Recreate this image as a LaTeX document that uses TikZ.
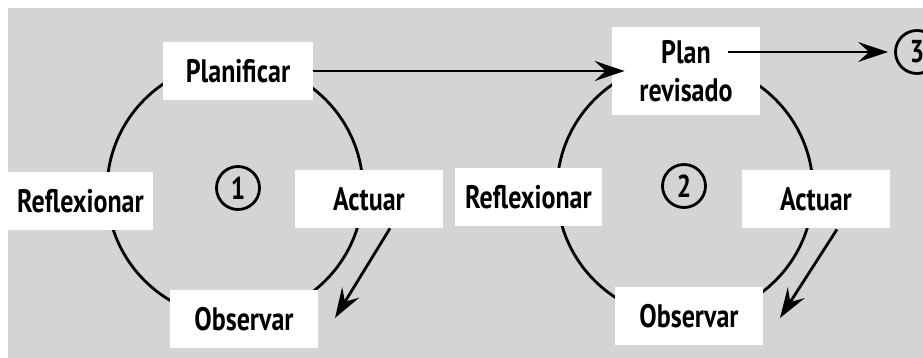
\documentclass[tikz,border=0pt]{standalone}
\usepackage{fontspec}
\setmainfont{PT Sans}[FakeStretch=0.8]
\usepackage{tikz}
\usetikzlibrary{arrows.meta, positioning, calc}
\usepackage{xcolor}
\definecolor{scangray}{RGB}{212,212,212}

\begin{document}
\begin{tikzpicture}[
		box/.style={
			fill=white,
			align=center,
			inner sep=0pt,
			minimum width=2.96cm,
			minimum height=1.16cm,
			font=\bfseries\fontsize{18.5}{21.5}\selectfont
		},
		num/.style={
			draw,
			circle,
			line width=1.6pt,
			inner sep=0pt,
			minimum size=0.86cm,
			font=\bfseries\fontsize{18}{20}\selectfont
		},
		cycle/.style={
			line width=1.6pt
		},
		arrow/.style={
			-{Stealth[length=0.6cm, width=0.4cm, inset=0.22cm]},
			line width=1.6pt
		}
		]
		
		\useasboundingbox (0,0) rectangle (18.46,7.16);
		\fill[scangray] (0.16,0) rectangle (18.46,7.0);
		
		% Ciclos
		\draw[cycle] (4.70,3.36) circle (2.56);
		\draw[cycle] (13.70,3.36) circle (2.56);
		
		% Primer ciclo
		\node[box, minimum width=3.0cm] (plan1) at (4.76,5.74) {Planificar};
		\node[box, minimum width=2.9cm] (refl1) at (1.61,3.14) {Reflexionar};
		\node[box] (act1) at (7.38,3.18) {Actuar};
		\node[box] (obs1) at (4.88,0.78) {Observar};
		\node[num] (num1) at (4.76,3.40) {1};
		
		% Segundo ciclo
		\node[box, minimum height=1.76cm] (plan2) at (13.72,5.74) {Plan\\revisado};
		\node[box, minimum width=2.94cm] (refl2) at (10.57,3.21) {Reflexionar};
		\node[box] (act2) at (16.32,3.18) {Actuar};
		\node[box] (obs2) at (13.78,0.83) {Observar};
		\node[num] (num2) at (13.68,3.44) {2};
		
		% Tercer ciclo
		\node[num] (num3) at (18.34,6.12) {3};
		
		% Extremos libres
		\coordinate (out1) at (6.70,0.80);
		\coordinate (out2) at (15.60,0.80);
		\coordinate (rev) at (14.56,6.12);
		
		% Flechas
		\draw[arrow, shorten >=-0.26cm] (plan1.east) -- (plan2.west);
		\draw[arrow, shorten >=0.12cm] (rev) -- (num3);
		\draw[arrow] ($(act1.south)+(0.42,0)$) -- (out1);
		\draw[arrow] ($(act2.south)+(0.42,-0.02)$) -- (out2);
		
	\end{tikzpicture}
\end{document}
